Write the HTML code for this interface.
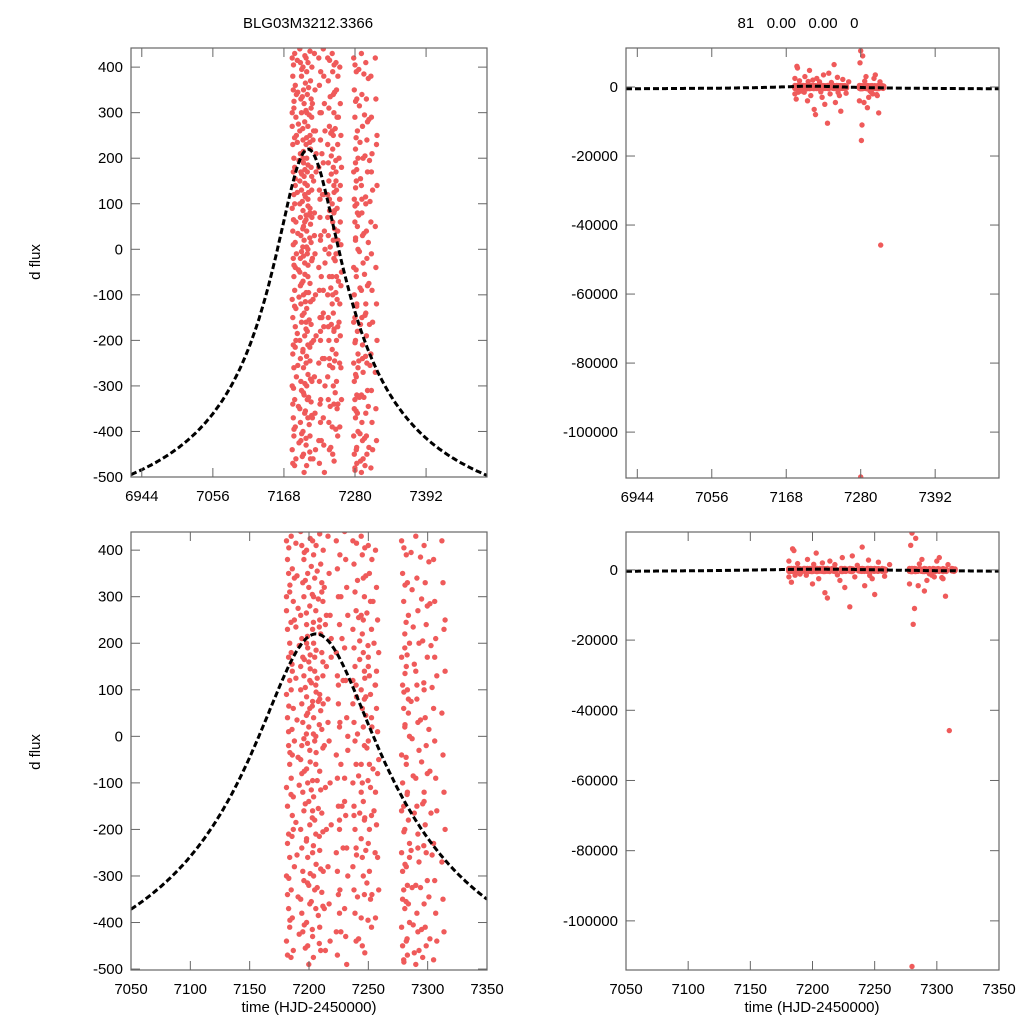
<!DOCTYPE html>
<html><head><meta charset="utf-8">
<style>
html,body{margin:0;padding:0;background:#fff;overflow:hidden;width:1024px;height:1024px;}
svg{display:block;overflow:hidden;font-family:"Liberation Sans",Arial,sans-serif;}
</style></head>
<body>
<svg id="fig" width="1024" height="1024" viewBox="0 0 1024 1024" xmlns="http://www.w3.org/2000/svg">
<rect width="1024" height="1024" fill="#fff"/>
<text x="308" y="28" font-size="15" text-anchor="middle">BLG03M3212.3366</text>
<text x="798" y="28" font-size="15" text-anchor="middle" xml:space="preserve">81   0.00   0.00   0</text>
<text transform="translate(40,262) rotate(-90)" font-size="15" text-anchor="middle">d flux</text>
<text transform="translate(40,752) rotate(-90)" font-size="15" text-anchor="middle">d flux</text>
<text x="309" y="1012" font-size="15" text-anchor="middle">time (HJD-2450000)</text>
<text x="812" y="1012" font-size="15" text-anchor="middle">time (HJD-2450000)</text>
</svg>
<script>
// ---- data ----
const nightTimes = [7181,7185,7193,7198,7203,7209,7216,7223,7230,7237,7244,7250,7256,7278,7282,7290,7297,7305,7312,
                    7183,7189,7196,7201,7206,7212,7226,7240,7247,7253,7280,7286,7294,7301];
const nightFluxes = [
[420,380,350,310,270,230,170,120,90,40,-20,-60,-110,-150,-210,-260,-300,-340,-370,-410,-440,-470,10,200,300,-230],
[430,360,290,250,180,140,60,-10,-90,-170,-200,-280,-330,-390,-460,340,100,-40,-130],
[440,410,330,300,260,210,170,130,100,70,30,-5,-50,-80,-120,-160,-200,-240,-290,-310,-350,-380,-420,380,150,-20],
[400,350,320,280,240,190,160,120,85,50,20,-30,-70,-100,-140,-190,-220,-260,-320,-360,-400,-450,-490,60,200],
[420,390,340,270,230,200,140,110,75,40,-10,-60,-95,-130,-180,-210,-250,-300,-330,-370,-430,300,170,0,-160],
[435,370,330,290,250,220,180,130,90,55,15,-25,-75,-115,-165,-205,-245,-285,-335,-365,-410,-460,310,160,80],
[430,350,260,170,80,-10,-100,-190,-280,-360,-440,210,30],
[420,360,300,240,180,130,70,20,-40,-90,-150,-200,-250,-290,-340,-380,-420,-470,110,-180],
[440,380,320,260,190,120,40,-30,-90,-170,-240,-300,-370,-430,-490,0,-140],
[420,370,310,270,230,190,150,110,70,30,-10,-60,-100,-150,-200,-240,-280,-330,-380,-440,120,-170],
[430,390,340,300,260,220,180,140,100,60,20,-20,-60,-100,-140,-180,-220,-260,-300,-340,-390,-450,250,80,-120],
[410,350,290,230,170,130,90,40,-10,-60,-110,-170,-230,-290,-350,-410,150,-200],
[400,320,250,180,110,60,10,-50,-120,-190,-260,-330,-390,140,-80],
[420,350,290,220,170,110,60,20,-40,-100,-150,-200,-250,-290,-330,-370,-410,-450,-480,190,-160,-350],
[390,330,260,200,150,100,50,0,-60,-120,-180,-230,-280,-320,-360,-400,-440,-470,80,-260],
[430,340,270,200,140,80,30,-30,-90,-150,-210,-270,-320,-380,-420,-460,-490,110,-240],
[410,330,240,170,100,40,-20,-80,-140,-190,-250,-310,-360,-410,-450,280,-120],
[380,290,210,130,60,-10,-90,-160,-230,-310,-380,-440,-480,170],
[420,330,230,140,50,-40,-120,-200,-270,-350,-420,250],
[405,325,245,155,65,-35,-125,-215,-305,-395,-475,15],
[415,345,275,195,125,35,-45,-105,-185,-255,-345,-425,235],
[395,335,265,215,165,105,45,-15,-75,-145,-225,-315,-405,-455,5],
[425,365,305,245,175,115,65,5,-55,-115,-175,-235,-295,-355,-415,-475,145],
[410,355,295,235,185,125,75,25,-35,-95,-155,-215,-275,-325,-385,-445,95],
[400,320,240,150,70,-20,-110,-200,-290,-370,-460,260],
[390,300,210,120,30,-60,-150,-240,-330,-420],
[415,335,255,165,85,5,-85,-165,-255,-345,-435,205],
[405,345,265,195,125,45,-25,-95,-175,-245,-315,-395,-465,85],
[380,290,200,110,20,-70,-160,-250,-340],
[405,325,245,175,95,25,-45,-125,-205,-275,-355,-435,-485,135],
[395,315,235,155,75,-5,-85,-165,-245,-325,-405,-465],
[385,295,205,115,35,-55,-145,-235,-325,-415,-475],
[375,285,195,105,15,-75,-165,-255,-345,-435]
];
const bigTimes = [7181,7181,7183,7184,7185,7186,7188,7195,7196,7200,7203,7205,7208,7210,7212,7214,7218,7222,7224,7226,7230,7232,7234,7240,7242,7245,7248,7250,7253,7258,7262,7278,7279,7280,7281,7282,7283,7285,7288,7290,7292,7296,7298,7300,7302,7305,7307,7309,7310,7280,7190,7201,7220,7236,7246,7286,7294,7304];
const bigFluxes = [2500,-2000,-3500,6000,5500,-1500,1800,-1500,3000,-4000,4800,-2500,2000,-6500,-8000,2500,1500,-3000,3500,-5000,-10500,4000,-2000,6500,-4500,2800,-2500,-7000,2200,-1800,1500,-4000,7000,10500,-15500,-11000,9000,-4500,3000,-6000,-3000,-1500,-2000,2500,3500,-2500,-7500,1500,-45800,-113000,-1200,1600,-1400,1300,-1600,1700,-1100,-2200];
// model (microlensing-like fit) parameters
const modelT0 = 7206, modelBase = -666, modelAmp = 886, modelWidth = 55;

// ---- panels ----
const panels = [
 {name:'top-left', x0:131,x1:487,y0:48,y1:477, tmin:6927,tmax:7488, fmin:-500,fmax:442,
  xt:[6944,7056,7168,7280,7392], yt:[400,300,200,100,0,-100,-200,-300,-400,-500]},
 {name:'top-right', x0:626,x1:999,y0:48,y1:478, tmin:6927,tmax:7488, fmin:-113300,fmax:11300,
  xt:[6944,7056,7168,7280,7392], yt:[0,-20000,-40000,-60000,-80000,-100000]},
 {name:'bottom-left', x0:131,x1:487,y0:532,y1:970, tmin:7050,tmax:7350, fmin:-502,fmax:439,
  xt:[7050,7100,7150,7200,7250,7300,7350], yt:[400,300,200,100,0,-100,-200,-300,-400,-500]},
 {name:'bottom-right', x0:626,x1:999,y0:532,y1:970, tmin:7050,tmax:7350, fmin:-114000,fmax:10800,
  xt:[7050,7100,7150,7200,7250,7300,7350], yt:[0,-20000,-40000,-60000,-80000,-100000]}
];
const NS='http://www.w3.org/2000/svg';
const svg=document.getElementById('fig');
function mk(tag,attrs,parent){const e=document.createElementNS(NS,tag);for(const k in attrs)e.setAttribute(k,attrs[k]);(parent||svg).appendChild(e);return e;}
function model(t){const d=(t-modelT0)/modelWidth;return modelBase+modelAmp/Math.sqrt(1+d*d);}

panels.forEach((p,pi)=>{
  const sx=t=>p.x0+(t-p.tmin)/(p.tmax-p.tmin)*(p.x1-p.x0);
  const sy=f=>p.y1-(f-p.fmin)/(p.fmax-p.fmin)*(p.y1-p.y0);
  const g=mk('g',{});
  
  
  const cid='clip'+pi;
  const cp=mk('clipPath',{id:cid},g);
  mk('rect',{x:p.x0,y:p.y0,width:p.x1-p.x0,height:p.y1-p.y0},cp);
  const pts=mk('g',{'clip-path':'url(#'+cid+')'},g);
  
  
  nightTimes.forEach((t,ni)=>{
    nightFluxes[ni].forEach((f,i)=>{
      const tt=t+(i%4)*0.9;
      const c=mk('circle',{cx:sx(tt).toFixed(1),cy:sy(f).toFixed(1),r:2.7,fill:'#ef5a5a'},pts);
      
      
    });
  });
  bigTimes.forEach((t,i)=>{
    const c=mk('circle',{cx:sx(t).toFixed(1),cy:sy(bigFluxes[i]).toFixed(1),r:2.7,fill:'#ef5a5a'},pts);
    
    
  });
  let d='';
  for(let k=0;k<=300;k++){const t=p.tmin+(p.tmax-p.tmin)*k/300;d+=(k?'L':'M')+sx(t).toFixed(1)+','+sy(model(t)).toFixed(1);}
  const ln=mk('path',{d:d,fill:'none',stroke:'#000','stroke-width':3,'stroke-dasharray':'6,3','clip-path':'url(#'+cid+')'},g);
  
  
  const fr=mk('rect',{x:p.x0,y:p.y0,width:p.x1-p.x0,height:p.y1-p.y0,fill:'none',stroke:'#666','stroke-width':1.2},g);
  
  
  p.xt.forEach(v=>{
    const x=sx(v);
    mk('line',{x1:x,x2:x,y1:p.y1,y2:p.y1-9,stroke:'#666','stroke-width':1},g);
    mk('line',{x1:x,x2:x,y1:p.y0,y2:p.y0+9,stroke:'#666','stroke-width':1},g);
    const tx=mk('text',{x:x,y:p.y1+24,'font-size':15,'text-anchor':'middle'},g);
    tx.textContent=v;
    
    
  });
  p.yt.forEach(v=>{
    const y=sy(v);
    mk('line',{x1:p.x0,x2:p.x0+9,y1:y,y2:y,stroke:'#666','stroke-width':1},g);
    mk('line',{x1:p.x1,x2:p.x1-9,y1:y,y2:y,stroke:'#666','stroke-width':1},g);
    const ty=mk('text',{x:p.x0-8,y:y+5,'font-size':15,'text-anchor':'end'},g);
    ty.textContent=v;
    
    
  });
});
</script>
</body></html>
